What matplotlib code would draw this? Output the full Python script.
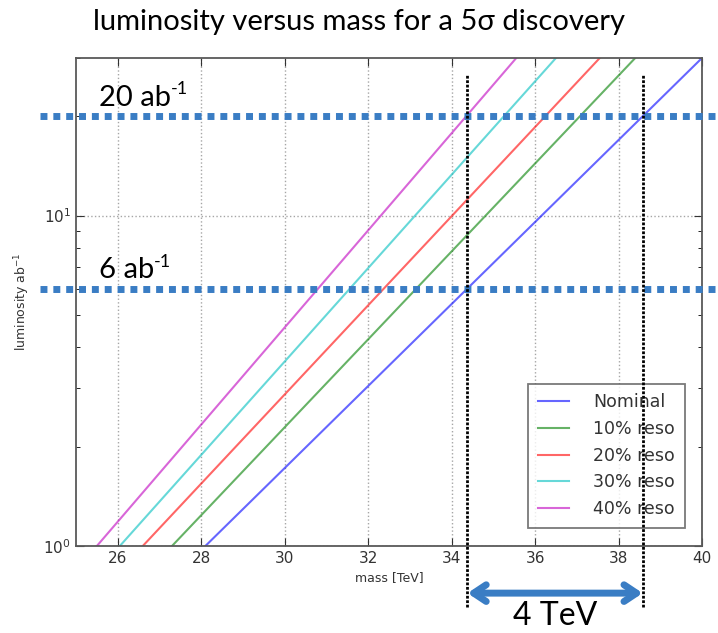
import numpy as np
import matplotlib
matplotlib.use("Agg")
import matplotlib.pyplot as plt

# luminosity end points of each curve [ab^-1]
lumi = [1.0, 30.0]

# mass [TeV] reached at those luminosities, per resolution scenario
labels = ["Nominal", "10% reso", "20% reso", "30% reso", "40% reso"]
mass_nominal = [28.1, 40.0]
mass_reso10 = [27.3, 38.4]
mass_reso20 = [26.6, 37.55]
mass_reso30 = [26.05, 36.5]
mass_reso40 = [25.5, 35.55]
colors = ["b", "g", "r", "c", "m"]

# reference luminosities and the mass window they give
lumi_refs = [20, 6]
lumi_ref_labels = ["20 ab", "6 ab"]
mass_window = [34.38, 38.58]

fig = plt.figure(figsize=(7.18, 6.33), dpi=100)
ax = fig.add_axes([76/718, 1 - 546/633, 626/718, 488/633])

all_mass = [mass_nominal, mass_reso10, mass_reso20, mass_reso30, mass_reso40]
for m, c, lab in zip(all_mass, colors, labels):
    ax.plot(m, lumi, color=c, alpha=0.6, lw=1.5, label=lab)

ax.set_yscale("log")
ax.set_xlim(25, 40)
ax.set_ylim(1, 30)
ax.set_xticks([26, 28, 30, 32, 34, 36, 38, 40])
ax.grid(True, which="major", color="0.65", linestyle=":", lw=1)
ax.tick_params(direction="in", top=True, right=True, labelsize=11,
               colors="0.2", length=6)
ax.tick_params(which="minor", direction="in", top=True, right=True, length=3)
for s in ax.spines.values():
    s.set_color("0.35")
    s.set_linewidth(1.3)

ax.set_xlabel("mass [TeV]", fontsize=9, color="0.2", labelpad=4)
ax.set_ylabel("luminosity ab$^{-1}$", fontsize=9, color="0.2", labelpad=8)

leg = ax.legend(loc="lower right", fontsize=12.5, fancybox=False,
                handlelength=1.8, handletextpad=1.4, borderpad=0.55,
                labelspacing=0.5, bbox_to_anchor=(0.986, 0.02))
leg.get_frame().set_edgecolor("0.35")
leg.get_frame().set_linewidth(1.3)
for t in leg.get_texts():
    t.set_color("0.2")

# blue dotted reference lines with text
for L, txt in zip(lumi_refs, lumi_ref_labels):
    ax.axhline(L, xmin=-0.058, xmax=1.03, color="#3a7dc4", lw=5, ls=(0, (1, 0.85)),
               clip_on=False, zorder=5)
    t = ax.text(25.55, L * 1.04, txt, fontsize=21, family="Lato", color="black",
                va="bottom", ha="left", zorder=6)
    ax.annotate("-1", xy=(1, 0.82), xycoords=t, fontsize=13, family="Lato",
                va="center", ha="left", zorder=6)

# vertical mass window markers
for mx in mass_window:
    ax.axvline(mx, ymin=-0.125, ymax=0.965, color="black", lw=2, ls=(0, (1, 0.6)),
               clip_on=False, zorder=6)

ax.annotate("", xy=(mass_window[1], 0.72), xytext=(mass_window[0], 0.72),
            arrowprops=dict(arrowstyle="<->,head_length=0.9,head_width=0.6",
                            color="#3a7dc4", lw=5, shrinkA=0, shrinkB=0),
            annotation_clip=False)
ax.text(sum(mass_window) / 2, 0.615, "4 TeV", fontsize=23, family="Lato",
        ha="center", va="center")

fig.text(0.5, 0.965, "luminosity versus mass for a 5σ discovery", fontsize=21,
         family="Lato", ha="center", va="center")

fig.savefig("out.png", dpi=100)
